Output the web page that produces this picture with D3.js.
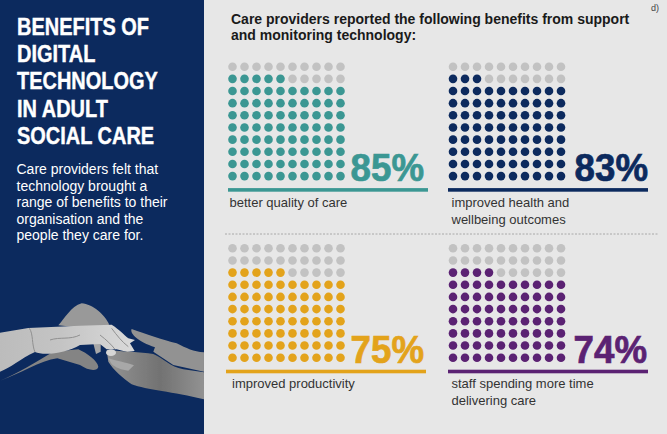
<!DOCTYPE html>
<html>
<head>
<meta charset="utf-8">
<script src="https://cdn.jsdelivr.net/npm/d3@7"></script>
<style>
  html, body { margin: 0; padding: 0; background: #e7e7e7; }
  svg { display: block; }
  text { font-family: "Liberation Sans", Arial, sans-serif; }
</style>
</head>
<body>
<div id="chart"></div>
<script>
const categories = ['better quality of care', 'improved health and wellbeing outcomes', 'improved productivity', 'staff spending more time delivering care']
const values = [85, 83, 75, 74]
const colors = ['#3b9793', '#0c2a5e', '#e3a31b', '#5b2273']
const labelLines = [
  ['better quality of care'],
  ['improved health and', 'wellbeing outcomes'],
  ['improved productivity'],
  ['staff spending more time', 'delivering care']
]
const titleLines = ['BENEFITS OF', 'DIGITAL', 'TECHNOLOGY', 'IN ADULT', 'SOCIAL CARE']
const introLines = ['Care providers felt that', 'technology brought a', 'range of benefits to their', 'organisation and the', 'people they care for.']
const headingLines = ['Care providers reported the following benefits from support', 'and monitoring technology:']

const width = 667
const height = 434
const navy = '#0c2a5e'
const grey = '#c2c2c2'
const columns = d3.range(10)
const rows = d3.range(10)

// where each panel sits on the page
const panelX = [232.5, 453, 232.5, 453]
const panelY = [66.7, 66.7, 248.3, 248.3]
const ruleX = [228, 448, 226, 448]
const labelX = [229.5, 451.5, 232, 451.5]
const numberRight = [424, 648, 424, 647]

const svg = d3.select('#chart').append('svg')
  .attr('width', width)
  .attr('height', height)

svg.append('rect').attr('width', width).attr('height', height).attr('fill', '#e7e7e7')
svg.append('rect').attr('width', 204).attr('height', height).attr('fill', navy)

// left column text, no narrow font installed so squeeze it
svg.append('g').selectAll('text')
  .data(titleLines)
  .enter().append('text')
    .attr('transform', (d, i) => `translate(17,${35 + i * 27.2}) scale(0.85,1)`)
    .attr('fill', '#fff')
    .attr('stroke', '#fff')
    .attr('stroke-width', 0.4)
    .style('font-weight', 700)
    .style('font-size', '23.5px')
    .text(d => d)

svg.append('g').selectAll('text')
  .data(introLines)
  .enter().append('text')
    .attr('x', 16.5)
    .attr('y', (d, i) => 174 + i * 16.5)
    .attr('fill', '#fff')
    .style('font-size', '14px')
    .text(d => d)

// hands, drawn in 3x units from the bottom of the navy column
const defs = svg.append('defs')
defs.append('filter').attr('id', 'soft')
  .append('feGaussianBlur').attr('stdDeviation', 1.2)
const armGrad = defs.append('linearGradient').attr('id', 'arm')
armGrad.append('stop').attr('offset', '0%').attr('stop-color', '#bcbcbc')
armGrad.append('stop').attr('offset', '45%').attr('stop-color', '#c4c4c4')
armGrad.append('stop').attr('offset', '100%').attr('stop-color', '#dadada')
const handGrad = defs.append('linearGradient').attr('id', 'hand')
handGrad.append('stop').attr('offset', '0%').attr('stop-color', '#949494')
handGrad.append('stop').attr('offset', '55%').attr('stop-color', '#727272')
handGrad.append('stop').attr('offset', '100%').attr('stop-color', '#929292')

const hands = svg.append('g')
  .attr('transform', 'translate(0,290) scale(0.3333)')
  .attr('filter', 'url(#soft)')

hands.append('path')
  .attr('fill', '#999')
  .attr('d', 'M175,106C195,85 212,50 245,40C278,42 315,75 328,104L250,114Z')
hands.append('path')
  .attr('fill', '#848484')
  .attr('d', 'M0,272C50,252 110,215 160,185L235,178C262,190 292,212 295,230C292,245 265,242 240,225L172,205C120,212 60,252 0,272Z')
hands.append('path')
  .attr('fill', '#a8a8a8')
  .attr('d', 'M280,160L302,160L302,185L288,192Z')
hands.append('path')
  .attr('fill', 'url(#arm)')
  .attr('d', 'M0,128L85,114L240,107L335,104C358,118 372,135 385,145L405,150L390,160L404,183L382,186L350,178L320,178L300,162L240,165C200,190 130,198 105,186C62,205 30,235 0,245Z')
hands.append('path')
  .attr('fill', '#929292')
  .attr('d', 'M612,187C580,185 560,175 530,160C490,150 430,130 395,117C388,130 415,155 465,172L460,185L520,225L612,245Z')
hands.append('path')
  .attr('fill', 'url(#hand)')
  .attr('d', 'M320,180C370,185 420,185 460,192C490,205 510,230 550,238L612,247L612,328C520,305 440,300 395,283C370,265 340,240 325,215Z')
hands.append('path')
  .attr('fill', '#a8a8a8')
  .attr('d', 'M325,205C345,212 380,218 402,226L385,242C365,240 345,232 335,222Z')
hands.append('ellipse')
  .attr('cx', 333).attr('cy', 188).attr('rx', 15).attr('ry', 10)
  .attr('fill', '#d6d6d6')
hands.append('path')
  .attr('fill', 'none').attr('stroke', '#909090').attr('stroke-width', 3)
  .attr('d', 'M105,186C95,165 100,130 88,115M150,150C180,140 210,150 240,135M300,135C320,150 335,165 345,178M335,115C350,135 365,155 385,170')

// heading and the d) note
svg.append('g').selectAll('text')
  .data(headingLines)
  .enter().append('text')
    .attr('x', 231)
    .attr('y', (d, i) => 24 + i * 16)
    .attr('fill', '#1a1a1a')
    .style('font-weight', 700)
    .style('font-size', '14px')
    .text(d => d)

svg.append('text')
  .attr('x', 651).attr('y', 11)
  .attr('fill', '#444')
  .style('font-size', '9px')
  .text('d)')

svg.append('line')
  .attr('x1', 225).attr('x2', 658)
  .attr('y1', 234).attr('y2', 234)
  .attr('stroke', '#a8a8a8')
  .attr('stroke-dasharray', '2 1.5')

categories.forEach((category, p) => {
  const x = d3.scalePoint().domain(columns).range([panelX[p], panelX[p] + 108])
  const y = d3.scalePoint().domain(rows).range([panelY[p], panelY[p] + 109.4])
  const panel = svg.append('g').attr('class', 'panel')

  // dots fill from the bottom left, one dot per percent
  const dots = d3.cross(rows, columns, (r, c) => ({r, c, n: (9 - r) * 10 + c}))
  panel.selectAll('circle')
    .data(dots)
    .enter().append('circle')
      .attr('cx', d => x(d.c))
      .attr('cy', d => y(d.r))
      .attr('r', 4.3)
      .attr('fill', d => d.n < values[p] ? colors[p] : grey)

  panel.append('rect')
    .attr('x', ruleX[p])
    .attr('y', panelY[p] + 121.4)
    .attr('width', 200)
    .attr('height', 3.6)
    .attr('fill', colors[p])

  panel.append('text')
    .attr('transform', `translate(${numberRight[p]},${panelY[p] + 114.5}) scale(0.965,1)`)
    .attr('text-anchor', 'end')
    .attr('fill', colors[p])
    .attr('stroke', colors[p])
    .attr('stroke-width', 0.7)
    .style('font-weight', 700)
    .style('font-size', '38px')
    .text(values[p] + '%')

  panel.selectAll('text.label')
    .data(labelLines[p])
    .enter().append('text')
      .attr('class', 'label')
      .attr('x', labelX[p])
      .attr('y', (d, i) => panelY[p] + 140 + i * 17)
      .attr('fill', '#333')
      .style('font-size', '13px')
      .text(d => d)
})
</script>
</body>
</html>
